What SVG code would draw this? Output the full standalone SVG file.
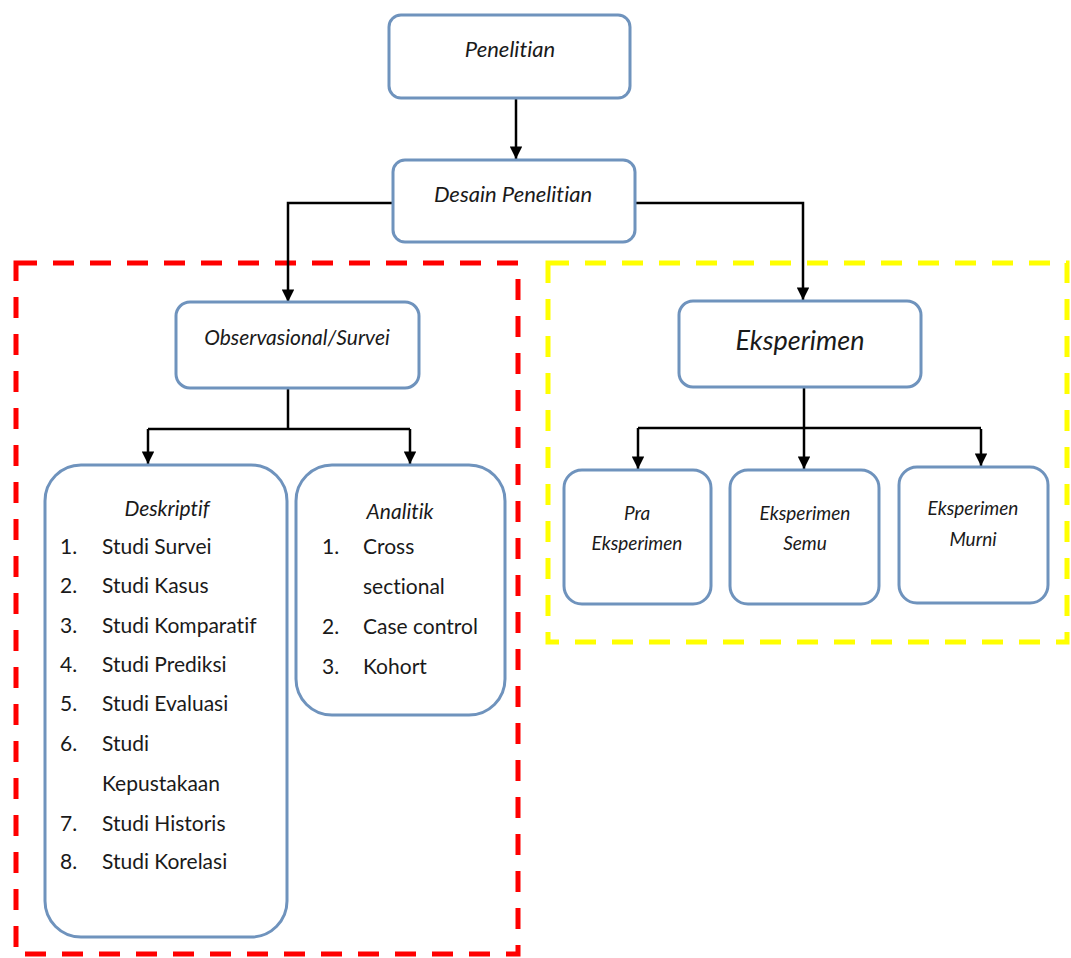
<svg xmlns="http://www.w3.org/2000/svg" width="1071" height="958" viewBox="0 0 1071 958">
  <style>
    text { font-variant-ligatures: none; }
    .box { fill: #ffffff; stroke: #6f93bd; stroke-width: 3; }
    .t { font-family: Lato, "Liberation Sans", sans-serif; font-style: italic; fill: #1a1a1a; text-anchor: middle; }
    .li { font-family: Lato, "Liberation Sans", sans-serif; font-size: 21px; fill: #1a1a1a; }
    .edge { fill: none; stroke: #000000; stroke-width: 2.5; }
    .red { fill: none; stroke: #ff0000; stroke-width: 5; stroke-dasharray: 21 16; }
    .yel { fill: none; stroke: #ffff00; stroke-width: 5; stroke-dasharray: 21 16; }
  </style>
  <defs>
    <marker id="arrow" viewBox="0 0 10 10" refX="10" refY="5" markerWidth="6" markerHeight="5" orient="auto" markerUnits="strokeWidth">
      <path d="M0,0 L10,5 L0,10 Z" fill="#000000"/>
    </marker>
  </defs>
  <rect width="1071" height="958" fill="#ffffff"/>

  <!-- grouping frames -->
  <g id="frames">
    <rect class="red" x="16" y="263" width="502" height="691"/>
    <rect class="yel" x="548" y="263" width="519" height="379"/>
  </g>

  <!-- connectors -->
  <g id="connectors">
    <path class="edge" d="M516,98 V159" marker-end="url(#arrow)"/>
    <path class="edge" d="M393,203 H288 V302" marker-end="url(#arrow)"/>
    <path class="edge" d="M635,203 H803 V300" marker-end="url(#arrow)"/>
    <path class="edge" d="M288,388 V429"/>
    <path class="edge" d="M148,429 H410"/>
    <path class="edge" d="M148,429 V464" marker-end="url(#arrow)"/>
    <path class="edge" d="M410,429 V464" marker-end="url(#arrow)"/>
    <path class="edge" d="M804,387 V429"/>
    <path class="edge" d="M638,428 H981"/>
    <path class="edge" d="M638,428 V469" marker-end="url(#arrow)"/>
    <path class="edge" d="M804,428 V469" marker-end="url(#arrow)"/>
    <path class="edge" d="M981,429 V466" marker-end="url(#arrow)"/>
  </g>

  <g id="penelitian">
    <rect class="box" x="389" y="15" width="241" height="83" rx="12"/>
    <text class="t" x="510" y="57" font-size="22">Penelitian</text>
  </g>

  <g id="desain">
    <rect class="box" x="393" y="160" width="242" height="82" rx="12"/>
    <text class="t" x="513" y="202" font-size="22">Desain Penelitian</text>
  </g>

  <g id="observasional">
    <rect class="box" x="176" y="302" width="243" height="86" rx="14"/>
    <text class="t" x="297" y="345" font-size="21">Observasional/Survei</text>
  </g>

  <g id="deskriptif">
    <rect class="box" x="45" y="465" width="242" height="472" rx="36"/>
    <text class="t" x="167" y="516" font-size="21">Deskriptif</text>
    <g class="li">
      <text x="60" y="554">1.</text><text x="102" y="554">Studi Survei</text>
      <text x="60" y="593">2.</text><text x="102" y="593">Studi Kasus</text>
      <text x="60" y="633">3.</text><text x="102" y="633">Studi Komparatif</text>
      <text x="60" y="672">4.</text><text x="102" y="672">Studi Prediksi</text>
      <text x="60" y="711">5.</text><text x="102" y="711">Studi Evaluasi</text>
      <text x="60" y="751">6.</text><text x="102" y="751">Studi</text>
      <text x="102" y="791">Kepustakaan</text>
      <text x="60" y="831">7.</text><text x="102" y="831">Studi Historis</text>
      <text x="60" y="869">8.</text><text x="102" y="869">Studi Korelasi</text>
    </g>
  </g>

  <g id="analitik">
    <rect class="box" x="296" y="465" width="209" height="250" rx="36"/>
    <text class="t" x="400" y="519" font-size="21">Analitik</text>
    <g class="li">
      <text x="322" y="554">1.</text><text x="363" y="554">Cross</text>
      <text x="363" y="594">sectional</text>
      <text x="322" y="634">2.</text><text x="363" y="634">Case control</text>
      <text x="322" y="674">3.</text><text x="363" y="674">Kohort</text>
    </g>
  </g>

  <g id="eksperimen">
    <rect class="box" x="679" y="301" width="242" height="86" rx="14"/>
    <text class="t" x="800" y="350" font-size="27">Eksperimen</text>
  </g>

  <g id="pra-eksperimen">
    <rect class="box" x="564" y="470" width="147" height="134" rx="18"/>
    <text class="t" x="637" y="520" font-size="19">Pra</text>
    <text class="t" x="637" y="550" font-size="19">Eksperimen</text>
  </g>

  <g id="eksperimen-semu">
    <rect class="box" x="730" y="470" width="149" height="134" rx="18"/>
    <text class="t" x="805" y="520" font-size="19">Eksperimen</text>
    <text class="t" x="805" y="550" font-size="19">Semu</text>
  </g>

  <g id="eksperimen-murni">
    <rect class="box" x="899" y="467" width="149" height="136" rx="18"/>
    <text class="t" x="973" y="515" font-size="19">Eksperimen</text>
    <text class="t" x="973" y="546" font-size="19">Murni</text>
  </g>
</svg>
